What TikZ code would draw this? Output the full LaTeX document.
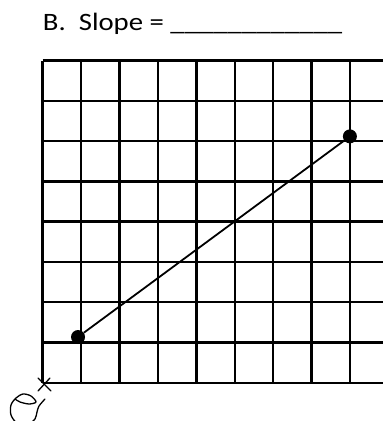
\documentclass[tikz,border=0pt]{standalone}
\usepackage{fontspec}
\setmainfont{Carlito}
\usepackage{tikz}

\tikzset{
  gridline/.style={line width=2.4pt},
  ptdot/.style={circle,fill=black,inner sep=0pt,minimum size=14pt},
  pencil/.style={line width=1.3pt,line cap=round,line join=round}
}

\begin{document}
\begin{tikzpicture}[x=38.4pt,y=40.25pt]
  \useasboundingbox (-42.7pt,-38.3pt) rectangle (340.3pt,382.7pt);
  % grid
  \foreach \i in {0,...,8}
    \draw[gridline] (\i,0)--(\i,8);
  \foreach \j in {0,...,8}
    \draw[gridline] (0,\j)--(340.3pt,\j);
  % title
  \node (title) at (0,8.738) [anchor=base west,inner sep=0pt,xscale=1.15,transform shape]
    {\fontsize{25}{30}\selectfont B.\ \ Slope = \_\_\_\_\_\_\_\_\_\_\_\_};
  % the two points and the segment
  \node (lo) at (0.92,1.135) [ptdot] {};
  \node (hi) at (8.0,6.12) [ptdot] {};
  \draw[line width=1.8pt] (lo) -- (hi);
  % pencil marks at the origin
  \begin{scope}[x=1pt,y=-1pt,shift={(-42.7pt,382.7pt)}]
    \draw[pencil] (38,378) -- (51,391);
    \draw[pencil] (50,378) -- (38,391);
    \draw[pencil] plot[smooth] coordinates {(45,399) (39,406) (37,412) (35,419)
      (28,424) (17,423) (11,415) (11,405) (16,398) (23,394) (31,396) (36,402)
      (29,404) (20,402) (15,399)};
  \end{scope}
\end{tikzpicture}
\end{document}
